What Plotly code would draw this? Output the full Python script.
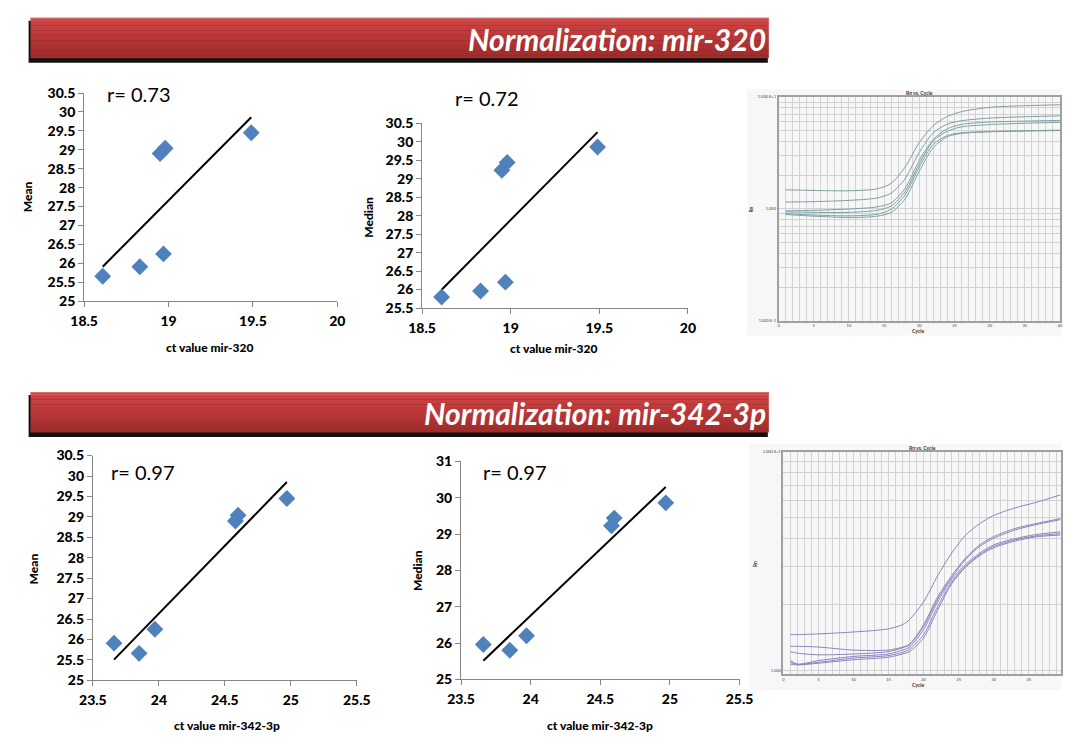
import numpy as np
import plotly.graph_objects as go

W, H = 1075, 745

# ---- qPCR sample data (one entry per sample) ----
ct_mir320 = [18.61, 18.83, 18.95, 18.98, 18.97, 19.49]
ct_mir342 = [23.85, 23.66, 24.58, 24.60, 23.97, 24.97]
mean_ct = [25.66, 25.91, 28.90, 29.04, 26.25, 29.45]
median_ct = [25.80, 25.96, 29.23, 29.44, 26.20, 29.86]
r_labels = ["r= 0.73", "r= 0.72", "r= 0.97", "r= 0.97"]
banner_titles = ["Normalization: mir-320", "Normalization: mir-342-3p"]

# ---- amplification curves (Rn vs. cycle) ----
amp_cycles_320 = [1, 5, 10, 14, 16, 18, 20, 22, 24, 26, 30, 35, 40]
amp_rn_320 = [
    [1.48, 1.46, 1.45, 1.51, 1.69, 2.37, 3.91, 5.55, 6.69, 7.39, 8.07, 8.35, 8.51],
    [1.15, 1.16, 1.19, 1.25, 1.38, 1.87, 3.20, 4.78, 5.73, 6.13, 6.47, 6.65, 6.78],
    [0.96, 0.97, 0.996, 1.04, 1.13, 1.53, 2.71, 4.18, 5.20, 5.68, 5.97, 6.08, 6.17],
    [0.94, 0.93, 0.93, 0.97, 1.06, 1.43, 2.53, 4.05, 4.94, 5.40, 5.66, 5.82, 5.93],
    [0.907, 0.88, 0.866, 0.895, 0.99, 1.34, 2.37, 3.78, 4.53, 4.78, 4.91, 4.99, 5.05],
    [0.89, 0.86, 0.837, 0.86, 0.93, 1.23, 2.17, 3.54, 4.41, 4.72, 4.88, 4.95, 5.01],
]
amp_cycles_342 = [1, 2, 5, 10, 15, 17, 18, 20, 22, 24, 26, 28, 30, 33, 36, 39.5]
amp_rn_342 = [
    [1.46, 1.46, 1.47, 1.50, 1.55, 1.62, 1.71, 2.06, 2.71, 3.44, 4.16, 4.69, 5.11, 5.53, 5.86, 6.34],
    [1.29, 1.29, 1.28, 1.24, 1.24, 1.28, 1.32, 1.62, 2.17, 2.71, 3.27, 3.75, 4.09, 4.45, 4.69, 4.94],
    [1.22, 1.20, 1.18, 1.19, 1.22, 1.27, 1.31, 1.59, 2.12, 2.66, 3.22, 3.69, 4.02, 4.38, 4.64, 4.89],
    [1.11, 1.07, 1.11, 1.16, 1.19, 1.24, 1.28, 1.54, 2.06, 2.60, 3.06, 3.44, 3.75, 4.00, 4.18, 4.30],
    [1.09, 1.067, 1.09, 1.14, 1.17, 1.21, 1.25, 1.46, 1.96, 2.53, 3.00, 3.39, 3.69, 3.95, 4.12, 4.22],
    [1.07, 1.06, 1.08, 1.12, 1.15, 1.19, 1.22, 1.41, 1.89, 2.49, 2.97, 3.35, 3.64, 3.90, 4.08, 4.16],
]


def px_x(x):
    return x / W


def px_y(y):
    return 1 - y / H


def dom_x(x0, x1):
    return [px_x(x0), px_x(x1)]


def dom_y(y_top, y_bot):
    return [px_y(y_bot), px_y(y_top)]


fig = go.Figure()
shapes = []
annotations = []

SANS = "Lato"
AXIS_GRAY = "#868686"
MARKER_BLUE = "#4F81BD"

# ---- scatter panels with least-squares trend lines ----
scatter_panels = [
    dict(n=1, x=ct_mir320, y=mean_ct, xr=[18.5, 20], yr=[25, 30.5], ydt=0.5,
         box=(72, 86, 332, 299), r=r_labels[0], rpos=(93, 87),
         xt="ct value mir-320", xtpos=(201, 346), yt="Mean", ytpos=(14, 192)),
    dict(n=2, x=ct_mir320, y=median_ct, xr=[18.5, 20], yr=[25.5, 30.5], ydt=0.5,
         box=(419, 117, 692, 306), r=r_labels[1], rpos=(451, 91),
         xt="ct value mir-320", xtpos=(554, 347), yt="Median", ytpos=(364, 213)),
    dict(n=3, x=ct_mir342, y=mean_ct, xr=[23.5, 25.5], yr=[25, 30.5], ydt=0.5,
         box=(81, 457, 352, 687), r=r_labels[2], rpos=(98, 474),
         xt="ct value mir-342-3p", xtpos=(219, 733), yt="Mean", ytpos=(20, 573)),
    dict(n=4, x=ct_mir342, y=median_ct, xr=[23.5, 25.5], yr=[25, 31], ydt=1,
         box=(459, 463, 745, 686), r=r_labels[3], rpos=(480, 474),
         xt="ct value mir-342-3p", xtpos=(602, 733), yt="Median", ytpos=(415, 575)),
]

for p in scatter_panels:
    n = p["n"]
    xa, ya = f"x{n}", f"y{n}"
    x = np.array(p["x"])
    y = np.array(p["y"])
    slope, icpt = np.polyfit(x, y, 1)
    xl = np.array([x.min(), x.max()])
    fig.add_trace(go.Scatter(x=xl, y=slope * xl + icpt, mode="lines",
                             line=dict(color="black", width=2),
                             xaxis=xa, yaxis=ya, showlegend=False, hoverinfo="skip"))
    fig.add_trace(go.Scatter(x=x, y=y, mode="markers",
                             marker=dict(symbol="diamond", size=13, color=MARKER_BLUE),
                             xaxis=xa, yaxis=ya, showlegend=False))
    x0, y0, x1, y1 = p["box"]
    axkey = "xaxis" if n == 1 else f"xaxis{n}"
    aykey = "yaxis" if n == 1 else f"yaxis{n}"
    tickfont = dict(family=SANS, size=14, color="black", weight=900)
    fig.update_layout({
        axkey: dict(domain=dom_x(x0, x1), anchor=ya, range=p["xr"], dtick=0.5,
                    showgrid=False, zeroline=False, showline=True, linecolor=AXIS_GRAY,
                    linewidth=1, ticks="outside", ticklen=5, tickcolor=AXIS_GRAY,
                    ticklabelstandoff=2, tickfont=tickfont, fixedrange=True),
        aykey: dict(domain=dom_y(y0, y1), anchor=xa, range=p["yr"], dtick=p["ydt"],
                    showgrid=False, zeroline=False, showline=True, linecolor=AXIS_GRAY,
                    linewidth=1, ticks="outside", ticklen=5, tickcolor=AXIS_GRAY,
                    tickfont=tickfont, fixedrange=True),
    })
    annotations.append(dict(text=p["r"], x=px_x(p["rpos"][0]), y=px_y(p["rpos"][1]),
                            xref="paper", yref="paper", xanchor="left", yanchor="middle",
                            showarrow=False, font=dict(family=SANS, size=20, color="black")))
    annotations.append(dict(text=p["xt"], x=px_x(p["xtpos"][0]), y=px_y(p["xtpos"][1]),
                            xref="paper", yref="paper", xanchor="center", yanchor="middle",
                            showarrow=False,
                            font=dict(family=SANS, size=12, color="black", weight=900)))
    annotations.append(dict(text=p["yt"], x=px_x(p["ytpos"][0]), y=px_y(p["ytpos"][1]),
                            xref="paper", yref="paper", xanchor="center", yanchor="middle",
                            textangle=-90, showarrow=False,
                            font=dict(family=SANS, size=12, color="black", weight=900)))

# ---- amplification plots ----
amp_panels = [
    dict(n=5, cycles=amp_cycles_320, rn=amp_rn_320, color="#7E9FA3",
         box=(785, 90, 1074, 319), xr=[0, 40], yr=[-1, 1], decades=[-1, 0],
         labels={0.1: "1.000 E-1", 1: "1.000", 10: "1.000 E+1"},
         bg=(753, 82, 1075, 334), title_y=86, rn_pos=(757, 205), cyc_pos=(928, 330)),
    dict(n=6, cycles=amp_cycles_342, rn=amp_rn_342, color="#8C83BE",
         box=(790, 453, 1075, 681), xr=[0, 39.6], yr=[-0.018, 1.0], decades=[0],
         labels={1: "1.000", 10: "1.000 E+1"},
         bg=(755, 445, 1075, 697), title_y=449, rn_pos=(761, 568), cyc_pos=(928, 692)),
]

for p in amp_panels:
    n = p["n"]
    xa, ya = f"x{n}", f"y{n}"
    bx0, by0, bx1, by1 = p["bg"]
    shapes.append(dict(type="rect", xref="paper", yref="paper", layer="below",
                       x0=px_x(bx0), x1=px_x(bx1), y0=px_y(by1), y1=px_y(by0),
                       fillcolor="#F7F7F7", line=dict(width=0)))
    for vals in p["rn"]:
        fig.add_trace(go.Scatter(x=p["cycles"], y=vals, mode="lines",
                                 line=dict(color=p["color"], width=1, shape="spline",
                                           smoothing=0.8),
                                 xaxis=xa, yaxis=ya, showlegend=False, hoverinfo="skip"))
    x0, y0, x1, y1 = p["box"]
    yvals = [k * 10.0 ** e for e in p["decades"] for k in range(1, 10)] + [10.0]
    ytext = [p["labels"].get(round(v, 6), "") for v in yvals]
    xvals = list(range(0, 41))
    xtext = [str(c) if c % 5 == 0 else "" for c in xvals]
    smallfont = dict(family=SANS, size=4, color="#444444")
    fig.update_layout({
        f"xaxis{n}": dict(domain=dom_x(x0, x1), anchor=ya, range=p["xr"],
                          tickmode="array", tickvals=xvals, ticktext=xtext,
                          showgrid=True, gridcolor="#D2D2D2", gridwidth=1,
                          zeroline=False, showline=True, mirror=True,
                          linecolor="#A0A0A0", linewidth=1.5, ticks="",
                          tickfont=smallfont, fixedrange=True),
        f"yaxis{n}": dict(domain=dom_y(y0, y1), anchor=xa, type="log", range=p["yr"],
                          tickmode="array", tickvals=yvals, ticktext=ytext,
                          showgrid=True, gridcolor="#D2D2D2", gridwidth=1,
                          zeroline=False, showline=True, mirror=True,
                          linecolor="#A0A0A0", linewidth=1.5, ticks="",
                          tickfont=smallfont, fixedrange=True),
    })
    annotations.append(dict(text="Rn vs. Cycle", x=px_x((x0 + x1) / 2), y=px_y(p["title_y"]),
                            xref="paper", yref="paper", xanchor="center", yanchor="middle",
                            showarrow=False,
                            font=dict(family=SANS, size=5, color="#333333", weight="bold")))
    annotations.append(dict(text="Rn", x=px_x(p["rn_pos"][0]), y=px_y(p["rn_pos"][1]),
                            xref="paper", yref="paper", xanchor="center", yanchor="middle",
                            textangle=-90, showarrow=False,
                            font=dict(family=SANS, size=5, color="#333333", weight="bold")))
    annotations.append(dict(text="Cycle", x=px_x(p["cyc_pos"][0]), y=px_y(p["cyc_pos"][1]),
                            xref="paper", yref="paper", xanchor="center", yanchor="middle",
                            showarrow=False,
                            font=dict(family=SANS, size=5, color="#333333", weight="bold")))

# ---- red section banners ----
banner_boxes = [(17, 9, 775, 50), (17, 392, 775, 433)]
top_rgb = np.array([0xD2, 0x44, 0x44])
bot_rgb = np.array([0xA0, 0x2C, 0x2C])
for (bx0, by0, bx1, by1), title in zip(banner_boxes, banner_titles):
    shapes.append(dict(type="rect", xref="paper", yref="paper",
                       x0=px_x(bx0 - 2), x1=px_x(bx1 - 1), y0=px_y(by1 + 5), y1=px_y(by0 + 3),
                       fillcolor="#111111", line=dict(width=0)))
    strips = 16
    hgt = (by1 - by0) / strips
    for i in range(strips):
        t = i / (strips - 1)
        c = (top_rgb * (1 - t) + bot_rgb * t).astype(int)
        shapes.append(dict(type="rect", xref="paper", yref="paper",
                           x0=px_x(bx0), x1=px_x(bx1),
                           y0=px_y(by0 + (i + 1) * hgt + 0.3), y1=px_y(by0 + i * hgt),
                           fillcolor=f"rgb({c[0]},{c[1]},{c[2]})", line=dict(width=0)))
    shapes.append(dict(type="line", xref="paper", yref="paper",
                       x0=px_x(bx0), x1=px_x(bx1), y0=px_y(by0 + 0.5), y1=px_y(by0 + 0.5),
                       line=dict(color="#E07070", width=1)))
    annotations.append(dict(text=title, x=px_x(bx1 - 1), y=px_y((by0 + by1) / 2 + 1),
                            xref="paper", yref="paper", xanchor="right", yanchor="middle",
                            showarrow=False,
                            font=dict(family=SANS, size=30, color="white",
                                      weight="bold", style="italic")))

fig.update_layout(width=W, height=H, margin=dict(l=0, r=0, t=0, b=0),
                  paper_bgcolor="white", plot_bgcolor="rgba(0,0,0,0)",
                  shapes=shapes, annotations=annotations, showlegend=False)

fig.write_html("out.html", config={"displayModeBar": False})
